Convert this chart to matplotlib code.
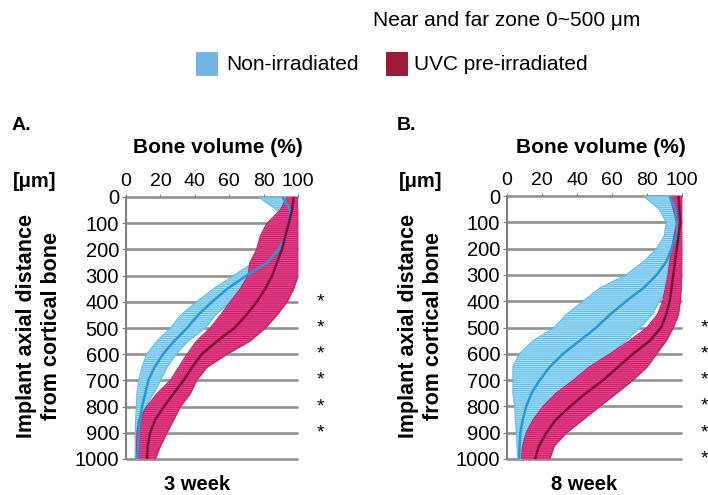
import numpy as np
import matplotlib
matplotlib.use("Agg")
from matplotlib import pyplot as plt
from matplotlib.patches import Rectangle

plt.rcParams['font.family'] = ['Liberation Sans', 'DejaVu Sans']
plt.rcParams['hatch.linewidth'] = 0.7

# depth from cortical bone (um)
depth = [0, 50, 100, 150, 200, 250, 300, 350, 400, 450, 500,
         550, 600, 650, 700, 750, 800, 850, 900, 950, 1000]

# panel A, 3 week
a_non_mean = [91, 95.5, 94.6, 92.6, 88.8, 82, 70, 59, 50, 42, 35.5,
              28, 21.5, 16.5, 13, 11.2, 9.3, 8, 7.4, 7, 6.4]
a_non_lo = [77, 88, 90, 88, 82, 74, 62.6, 51, 41, 32, 25.8,
            18, 12, 9.3, 7.4, 6.4, 6, 5.6, 5.4, 5.4, 5.4]
a_non_hi = [93.6, 98.4, 99, 97.5, 95.5, 91.7, 78, 70, 60.7, 52, 46,
            36, 29, 23.8, 20, 16, 11.2, 8.4, 7.8, 7.6, 7.4]
a_uvc_mean = [97.5, 96.5, 94.6, 92.6, 90.7, 87.8, 85, 81, 76, 70, 63,
              53, 44, 38.4, 33.5, 27.7, 22, 17, 14, 12.6, 12.2]
a_uvc_lo = [93.6, 89.7, 82, 78, 76, 72, 71, 66.5, 60.6, 55, 49,
            41, 35.5, 30.6, 25.8, 18, 12, 7.4, 6.4, 6.2, 6]
a_uvc_hi = [99.4, 100, 100, 100, 100, 100, 100, 97.5, 93.6, 87.8, 81,
            72, 58.7, 47, 41, 37.4, 31.6, 27.7, 23.8, 20, 17]

# panel B, 8 week
b_non_mean = [93, 96, 97, 97, 94, 91, 85.5, 78, 68, 59, 51,
              41.6, 32, 24.4, 18.7, 14, 11, 9, 7.6, 7.2, 6.9]
b_non_lo = [78, 87, 91, 90, 85.5, 78, 68, 53, 43.5, 34, 27,
            15, 7, 3.4, 3.4, 3.4, 4.4, 4.8, 5.3, 5.7, 6.3]
b_non_hi = [95, 97, 99, 100, 100, 100, 98, 93, 87, 83, 76,
            68, 59, 51, 43.5, 34, 24.4, 16.8, 12, 10, 8.2]
b_uvc_mean = [98, 98.5, 99, 98, 97, 96, 95, 94, 93, 91, 88,
              81.7, 72, 63.5, 55, 45, 36, 28, 22.5, 18.3, 16]
b_uvc_lo = [93, 95, 97, 95.5, 94, 93, 92, 90.5, 89, 86, 80,
            70, 59, 47, 38, 28, 20.6, 15, 11, 9, 8.2]
b_uvc_hi = [100, 100, 100, 100, 100, 100, 100, 99.5, 99, 98, 95,
            91, 85.5, 80, 72, 62.6, 53, 43.5, 34, 27, 24.4]

y_ticks = [0, 100, 200, 300, 400, 500, 600, 700, 800, 900, 1000]
x_ticks = [0, 20, 40, 60, 80, 100]
a_stars = [400, 500, 600, 700, 800, 900]
b_stars = [500, 600, 700, 800, 900, 1000]

BLUE_FILL = '#a6dcf4'
BLUE_HATCH = '#62c0ec'
BLUE_LINE = '#2a98d4'
RED_FILL = '#e4458c'
RED_HATCH = '#cc1f6a'
RED_LINE = '#7c1232'

W, H = 708, 495
fig = plt.figure(figsize=(W / 100, H / 100), dpi=100)


def px(x, y):
    return x / W, 1 - y / H


def band(ax, lo, hi, mean, fill, hatch, line):
    ax.fill_betweenx(depth, lo, hi, color=fill, lw=0, zorder=2)
    ax.fill_betweenx(depth, lo, hi, facecolor='none', edgecolor=hatch,
                     hatch='-' * 8, lw=0, zorder=2)
    ax.plot(lo, depth, color=hatch, lw=0.9, zorder=2)
    ax.plot(hi, depth, color=hatch, lw=0.9, zorder=2)
    ax.plot(mean, depth, color=line, lw=1.8, zorder=3)


def panel(rect, series, stars, letter, letter_x, title_x, mu_x, vlab_x, week, week_x):
    ax = fig.add_axes(rect)
    for lo, hi, mean, fill, hatch, line in series:
        band(ax, lo, hi, mean, fill, hatch, line)
    ax.hlines(y_ticks, 0, 100, color='#919191', lw=1.9, zorder=1, clip_on=False)
    ax.set_xlim(0, 100)
    ax.set_ylim(1000, 0)
    ax.set_yticks(y_ticks)
    ax.set_xticks(x_ticks)
    ax.xaxis.tick_top()
    ax.tick_params(axis='y', labelsize=14.5, length=3, color='#808080', pad=2)
    ax.tick_params(axis='x', labelsize=14, length=2, color='#808080', pad=3)
    for s in ['top', 'right', 'bottom']:
        ax.spines[s].set_visible(False)
    ax.spines['left'].set_color('#808080')
    ax.spines['left'].set_linewidth(1.5)
    for v in stars:
        ax.text(1.13, v, '*', transform=ax.get_yaxis_transform(),
                ha='center', va='center', fontsize=14)

    fig.text(*px(letter_x, 125), letter, fontsize=14, fontweight='bold', va='center')
    fig.text(*px(title_x, 148), 'Bone volume (%)', fontsize=15, fontweight='bold',
             ha='center', va='center')
    fig.text(*px(mu_x, 182), '[μm]', fontsize=14.5, fontweight='bold', va='center')
    fig.text(*px(vlab_x, 326), 'Implant axial distance\nfrom cortical bone',
             fontsize=15.5, fontweight='bold', rotation=90, ha='center', va='center',
             linespacing=1.25)
    fig.text(*px(week_x, 485), week, fontsize=14.5, fontweight='bold',
             ha='center', va='center')
    return ax


panel([126 / W, 1 - 459 / H, 172 / W, 262 / H],
      [(a_non_lo, a_non_hi, a_non_mean, BLUE_FILL, BLUE_HATCH, BLUE_LINE),
       (a_uvc_lo, a_uvc_hi, a_uvc_mean, RED_FILL, RED_HATCH, RED_LINE)],
      a_stars, 'A.', 12, 218, 13, 39, '3 week', 197)

panel([507 / W, 1 - 459 / H, 175 / W, 263 / H],
      [(b_non_lo, b_non_hi, b_non_mean, BLUE_FILL, BLUE_HATCH, BLUE_LINE),
       (b_uvc_lo, b_uvc_hi, b_uvc_mean, RED_FILL, RED_HATCH, RED_LINE)],
      b_stars, 'B.', 397, 601, 399, 421, '8 week', 584)

# legend
fig.text(*px(373, 20), 'Near and far zone 0~500 μm', fontsize=15, va='center')
fig.patches.append(Rectangle(px(196, 76), 22 / W, 24 / H, transform=fig.transFigure,
                             facecolor='#74b4e0', edgecolor='none'))
fig.text(*px(226, 65), 'Non-irradiated', fontsize=15, va='center')
fig.patches.append(Rectangle(px(386, 76), 22 / W, 24 / H, transform=fig.transFigure,
                             facecolor='#9b1b38', edgecolor='none'))
fig.text(*px(414, 65), 'UVC pre-irradiated', fontsize=15, va='center')

fig.savefig('out.png', dpi=100)
